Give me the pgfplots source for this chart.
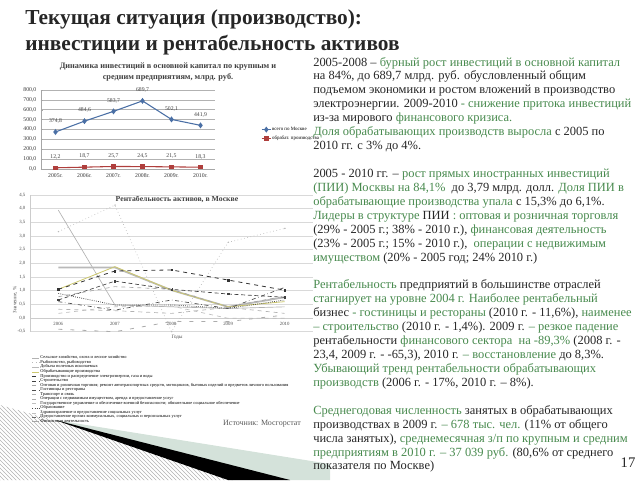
\documentclass[border=0pt]{standalone}
\usepackage{fontspec}
\setmainfont{Liberation Serif}
\usepackage{pgfplots}
\pgfplotsset{compat=1.18}
\usetikzlibrary{patterns}
\definecolor{txtgreen}{RGB}{72,138,78}
\definecolor{txtdark}{RGB}{38,38,38}
\definecolor{serblue}{RGB}{74,111,165}
\definecolor{serred}{RGB}{175,62,60}
\definecolor{bandteal}{RGB}{212,226,218}
\definecolor{olivey}{RGB}{205,200,110}
\newcommand{\G}[1]{\textcolor{txtgreen}{#1}}
\newcommand{\tl}[2]{\node[anchor=base west, inner sep=0pt, font=\fontsize{9.35}{11}\selectfont, text=txtdark] at (313,480-66-13.93*#1) {#2};}
\begin{document}
\begin{tikzpicture}[x=0.75pt,y=0.75pt]
\useasboundingbox (0,0) rectangle (640,480);
% decoration bottom-left
\fill[pattern=north west lines, pattern color=gray!60] (0,75) -- (60,58) -- (235,0) -- (0,0) -- cycle;
\fill[bandteal] (55,60) -- (330,16) -- (330,0) -- (285,0) -- cycle;
\fill[black] (55,60) -- (290,0) -- (228,0) -- cycle;

% title
\node[anchor=base west, inner sep=0pt, font=\fontsize{16}{19}\selectfont\bfseries, text=txtdark] at (25,480-24) {Текущая ситуация (производство):};
\node[anchor=base west, inner sep=0pt, font=\fontsize{16}{19}\selectfont\bfseries, text=txtdark] at (25,480-50) {инвестиции и рентабельность активов};

% chart 1 title
\node[align=center, inner sep=0pt, font=\fontsize{6.2}{8.5}\selectfont\bfseries, text=black!75] at (168,480-72) {Динамика инвестиций в основной капитал по крупным и\\ средним предприятиям, млрд. руб.};

\begin{axis}[at={(30.75pt,233.25pt)}, anchor=south west, scale only axis,
  width=130.5pt, height=59.25pt,
  xmin=-0.5, xmax=5.5, ymin=0, ymax=800,
  xtick={0,...,5}, xticklabels={2005г.,2006г.,2007г.,2008г.,2009г.,2010г.},
  ytick={0,100,...,800},
  /pgf/number format/assume math mode=true,
  yticklabel style={/pgf/number format/.cd, fixed, fixed zerofill, precision=1, use comma},
  tick label style={font=\fontsize{4.3}{5}\selectfont, text=black!80},
  axis x line*=bottom, axis y line*=left,
  axis line style={gray!70}, tick style={gray!70}, major tick length=1.5pt,
  ymajorgrids, major grid style={gray!60, line width=0.5pt},
  clip=false,
  nodes near coords={\pgfmathprintnumber[fixed,fixed zerofill,precision=1,use comma,assume math mode=true]{\pgfplotspointmeta}},
  every node near coord/.append style={font=\fontsize{4.3}{5}\selectfont, text=black!75, anchor=south, yshift=2.5pt},
  legend style={at={(axis description cs:1.24,0.44)}, anchor=west, draw=none, fill=none, font=\fontsize{3.7}{4.4}\selectfont, row sep=2pt, nodes={inner sep=0.4pt}},
  legend cell align=left,
  legend image code/.code={\draw[#1] (0cm,0cm) -- (0.25cm,0cm); \draw[#1, only marks] plot coordinates {(0.125cm,0cm)};},
]
\addplot[serblue, line width=0.8pt, mark=diamond*, mark size=1.6pt] coordinates {(0,374.8) (1,484.6) (2,583.7) (3,689.7) (4,502.1) (5,441.9)};
\addplot[serred, line width=0.8pt, mark=square*, mark size=1.3pt] coordinates {(0,12.2) (1,18.7) (2,25.7) (3,24.5) (4,21.5) (5,18.3)};
\legend{всего по Москве, обрабат. производства}
\end{axis}

% chart 2 title and labels
\node[inner sep=0pt, font=\fontsize{5.8}{7}\selectfont\bfseries, text=black!75] at (177,480-199) {Рентабельность активов, в Москве};
\node[inner sep=0pt, font=\fontsize{3.8}{4.5}\selectfont, text=black!70] at (177,480-337) {Годы};
\node[inner sep=0pt, rotate=90, font=\fontsize{3.8}{4.5}\selectfont, text=black!70] at (15,480-300) {Значение, \%};

\begin{axis}[at={(22.5pt,111.225pt)}, anchor=south west, scale only axis,
  width=212.25pt, height=102.5pt,
  xmin=-0.5, xmax=4.5, ymin=-0.5, ymax=4.5,
  xtick={0,...,4}, xticklabels={2006,2007,2008,2009,2010},
  ytick={-0.5,0,...,4.5},
  axis x line=middle, axis y line=left, axis line style={-, gray!40},
  hide obscured x ticks=false,
  /pgf/number format/assume math mode=true,
  yticklabel style={/pgf/number format/.cd, fixed, fixed zerofill, precision=1, use comma},
  tick label style={font=\fontsize{3.6}{4}\selectfont, text=black!70},
  major tick length=0pt,
  ymajorgrids, major grid style={gray!30, line width=0.4pt},
  clip=false,
  legend style={at={(axis description cs:0,0)}, anchor=north west, xshift=-2pt, yshift=-15.5pt, draw=none, fill=none, font=\fontsize{3.3}{3.5}\selectfont, row sep=-0.75pt, nodes={inner sep=0.2pt}},
  legend cell align=left,
  legend image code/.code={\draw[#1] (0cm,0cm) -- (0.18cm,0cm);},
]
\addplot[gray!60, line width=0.5pt] coordinates {(0,3.95) (1,0.48) (2,0.41) (3,0.35) (4,0.41)};
\addplot[gray!55, dotted, line width=0.5pt, mark=*, mark size=0.5pt] coordinates {(0,3.16) (1,4.13) (2,-0.50) (3,2.77) (4,3.28)};
\addplot[gray!55, line width=1.3pt] coordinates {(0,1.85) (1,1.85) (2,1.02) (3,0.41) (4,0.76)};
\addplot[olivey, line width=0.6pt] coordinates {(0,1.05) (1,1.88) (2,1.02) (3,0.41) (4,0.60)};
\addplot[black!80, dashed, line width=0.6pt, mark=square*, mark size=0.7pt] coordinates {(0,1.05) (1,1.72) (2,1.76) (3,1.39) (4,1.02)};
\addplot[black!75, densely dashed, line width=0.5pt, mark=square*, mark size=0.6pt] coordinates {(0,0.66) (1,1.35) (2,1.05) (3,0.88) (4,0.76)};
\addplot[gray!70, dashed, line width=0.5pt] coordinates {(0,0.78) (1,1.15) (2,1.05) (3,0.41) (4,0.80)};
\addplot[black!70, dashdotted, line width=0.5pt] coordinates {(0,0.60) (1,0.29) (2,0.66) (3,0.35) (4,1.12)};
\addplot[gray!60, dashed, line width=0.5pt] coordinates {(0,0.32) (1,0.27) (2,0.17) (3,0.39) (4,0.17)};
\addplot[gray!65, loosely dashed, line width=0.6pt] coordinates {(0,-0.41) (1,-0.50) (2,-0.13) (3,-0.13) (4,0.11)};
\addplot[gray!50, dashed, line width=0.5pt] coordinates {(0,0.17) (1,0.41) (2,0.44) (3,-0.01) (4,-0.01)};
\addplot[black!70, densely dotted, line width=0.6pt] coordinates {(0,0.90) (1,0.48) (2,0.48) (3,0.35) (4,0.66)};
\addlegendimage{gray!50, dashed}
\addlegendimage{black!60, dashdotted}
\addlegendimage{gray!70}
\legend{{Сельское хозяйство, охота и лесное хозяйство},
{Рыболовство, рыбоводство},
{Добыча полезных ископаемых},
{Обрабатывающие производства},
{Производство и распределение электроэнергии, газа и воды},
{Строительство},
{Оптовая и розничная торговля; ремонт автотранспортных средств, мотоциклов, бытовых изделий и предметов личного пользования},
{Гостиницы и рестораны},
{Транспорт и связь},
{Операции с недвижимым имуществом, аренда и предоставление услуг},
{Государственное управление и обеспечение военной безопасности; обязательное социальное обеспечение},
{Образование},
{Здравоохранение и предоставление социальных услуг},
{Предоставление прочих коммунальных, социальных и персональных услуг},
{Финансовая деятельность}}
\end{axis}

\node[inner sep=0pt, font=\fontsize{6}{7}\selectfont, text=black!65] at (262,480-424) {Источник: Мосгорстат};

% right text
\tl{0}{2005-2008 – \G{бурный рост инвестиций в основной капитал}}
\tl{1}{на 84\%, до 689,7 млрд. руб. обусловленный общим}
\tl{2}{подъемом экономики и ростом вложений в производство}
\tl{3}{электроэнергии. 2009-2010 \G{- снижение притока инвестиций}}
\tl{4}{из-за мирового \G{финансового кризиса.}}
\tl{5}{\G{Доля обрабатывающих производств выросла} с 2005 по}
\tl{6}{2010 гг. с 3\% до 4\%.}
\tl{8}{2005 - 2010 гг. – \G{рост прямых иностранных инвестиций}}
\tl{9}{\G{(ПИИ) Москвы на 84,1\%}\ \ до 3,79 млрд. долл. \G{Доля ПИИ в}}
\tl{10}{\G{обрабатывающие производства упала} с 15,3\% до 6,1\%.}
\tl{11}{\G{Лидеры в структуре} ПИИ \G{: оптовая и розничная торговля}}
\tl{12}{(29\% - 2005 г.; 38\% - 2010 г.), \G{финансовая деятельность}}
\tl{13}{(23\% - 2005 г.; 15\% - 2010 г.),\ \ \G{операции с недвижимым}}
\tl{14}{\G{имуществом} (20\% - 2005 год; 24\% 2010 г.)}
\tl{16}{\G{Рентабельность} предприятий в большинстве отраслей}
\tl{17}{\G{стагнирует на уровне 2004 г. Наиболее рентабельный}}
\tl{18}{бизнес \G{- гостиницы и рестораны} (2010 г. - 11,6\%), \G{наименее}}
\tl{19}{\G{– строительство} (2010 г. - 1,4\%). 2009 г. \G{– резкое падение}}
\tl{20}{рентабельности \G{финансового сектора\ \ на -89,3\%} (2008 г. -}
\tl{21}{23,4, 2009 г. - -65,3), 2010 г. \G{– восстановление} до 8,3\%.}
\tl{22}{\G{Убывающий тренд рентабельности обрабатывающих}}
\tl{23}{\G{производств} (2006 г. - 17\%, 2010 г. – 8\%).}
\tl{25}{\G{Среднегодовая численность} занятых в обрабатывающих}
\tl{26}{производствах в 2009 г. \G{– 678 тыс. чел.} (11\% от общего}
\tl{27}{числа занятых), \G{среднемесячная з/п по крупным и средним}}
\tl{28}{\G{предприятиям в 2010 г. – 37 039 руб.} (80,6\% от среднего}
\tl{29}{показателя по Москве)}
\node[inner sep=0pt, font=\fontsize{11}{13}\selectfont, text=txtdark] at (628,480-463) {17};
\end{tikzpicture}
\end{document}
